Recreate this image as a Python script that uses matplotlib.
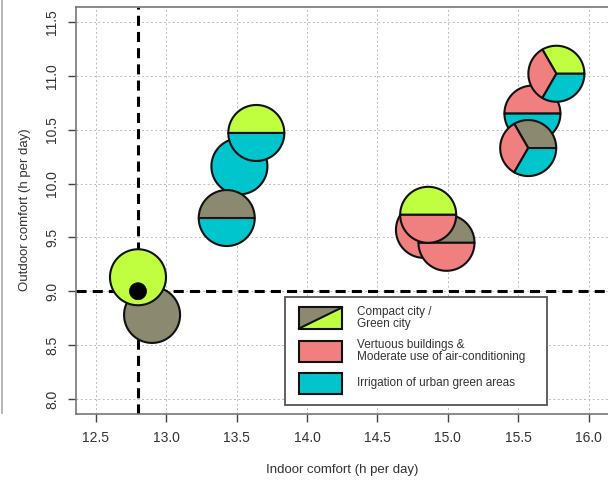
import matplotlib
matplotlib.use('Agg')
import numpy as np
import matplotlib.pyplot as plt
from matplotlib.patches import Rectangle, Polygon
from matplotlib.lines import Line2D

plt.rcParams['font.family'] = ['Liberation Sans', 'DejaVu Sans']

# colours of the three strategies
GRAY = '#8B8970'
LIME = '#BFFF3F'
PINK = '#F08080'
CYAN = '#00C5CD'

# scenario points (indoor, outdoor) and the strategies mixed in each, drawing order
indoor = [13.52, 13.43, 13.64, 12.90, 12.80, 14.83, 14.99, 14.86, 15.60, 15.57, 15.77]
outdoor = [10.16, 9.68, 10.47, 8.78, 9.13, 9.57, 9.45, 9.71, 10.65, 10.33, 11.02]
slices = [
    [CYAN],
    [GRAY, CYAN],
    [LIME, CYAN],
    [GRAY],
    [LIME],
    [PINK],
    [GRAY, PINK],
    [LIME, PINK],
    [PINK, CYAN],
    [GRAY, PINK, CYAN],
    [LIME, PINK, CYAN],
]

ref_x, ref_y = 12.8, 9.0
xticks = [12.5, 13.0, 13.5, 14.0, 14.5, 15.0, 15.5, 16.0]
yticks = [8.0, 8.5, 9.0, 9.5, 10.0, 10.5, 11.0, 11.5]

legend_labels = ['Compact city /\nGreen city',
                 'Vertuous buildings &\nModerate use of air-conditioning',
                 'Irrigation of urban green areas']

W, H = 608, 482
fig = plt.figure(figsize=(W / 100, H / 100), dpi=100)
ax_l, ax_r, ax_t, ax_b = 76, 608.5, 7, 414
ax = fig.add_axes([ax_l / W, 1 - ax_b / H, (ax_r - ax_l) / W, (ax_b - ax_t) / H])
xlim = (12.5 - 0.14, 16.0 + 0.14)
ylim = (8.0 - 0.14, 11.5 + 0.14)
ax.set_xlim(xlim)
ax.set_ylim(ylim)

ax.set_xticks(xticks)
ax.set_yticks(yticks)
ax.set_xticklabels(['%.1f' % v for v in xticks], fontsize=10, color='#333333')
ax.set_yticklabels(['%.1f' % v for v in yticks], fontsize=10, color='#333333',
                   rotation=90, va='center')
ax.tick_params(axis='x', length=6, width=1, color='#444444', pad=6)
ax.tick_params(axis='y', length=6, width=1, color='#444444', pad=6)
ax.grid(True, color='#bbbbbb', linestyle=(0, (2, 2.5)), linewidth=0.7)
ax.set_axisbelow(True)
for s in ax.spines.values():
    s.set_color('#777777')
    s.set_linewidth(1.2)
ax.spines['right'].set_visible(False)

# reference lines
ax.axvline(ref_x, color='black', lw=2.2, dashes=(3.3, 2.0), zorder=2)
ax.axhline(ref_y, color='black', lw=2.2, dashes=(3.3, 2.0), zorder=2)

# pixel -> data scale so the pies stay round on screen
sx = (xlim[1] - xlim[0]) / (ax_r - ax_l)
sy = (ylim[1] - ylim[0]) / (ax_b - ax_t)


def sector(x, y, r_px, t1, t2, full=False):
    t = np.radians(np.linspace(t1, t2, 120))
    px = x + r_px * sx * np.cos(t)
    py = y + r_px * sy * np.sin(t)
    if full:
        return np.column_stack([px, py])
    return np.vstack([[x, y], np.column_stack([px, py])])


r = 28
z = 3
for x, y, cols in zip(indoor, outdoor, slices):
    n = len(cols)
    if n == 1:
        ax.add_patch(Polygon(sector(x, y, r, 0, 360, True), closed=True,
                             facecolor=cols[0], edgecolor='#111111', lw=1.5, zorder=z))
    else:
        step = 360.0 / n
        for i, c in enumerate(cols):
            ax.add_patch(Polygon(sector(x, y, r, i * step, (i + 1) * step), closed=True,
                                 facecolor=c, edgecolor='#111111', lw=1.5,
                                 joinstyle='round', zorder=z))
    z += 1

# black reference dot
ax.add_patch(Polygon(sector(ref_x, ref_y, 8.5, 0, 360, True), closed=True,
                     facecolor='black', edgecolor='black', lw=0.5, zorder=z + 1))


# legend box and axis titles drawn in figure pixels
def fx(px):
    return px / float(W)


def fy(py):
    return 1 - py / float(H)


fig.text(fx(342), fy(470), 'Indoor comfort (h per day)', fontsize=9.5, color='#333333',
         ha='center', va='center')
fig.text(fx(25), fy(210), 'Outdoor comfort (h per day)', fontsize=9.5, color='#333333',
         ha='center', va='center', rotation=90)

fig.add_artist(Rectangle((fx(285), fy(405)), fx(547) - fx(285), fy(297) - fy(405),
                         transform=fig.transFigure, facecolor='white',
                         edgecolor='#555555', lw=1.3, zorder=10))
rows_y = [318, 351, 383]
bw, bh = 43, 21
x0 = 299
# first key: gray / lime split along the diagonal
yt, yb = rows_y[0] - bh / 2, rows_y[0] + bh / 2
fig.add_artist(Polygon([(fx(x0), fy(yt)), (fx(x0 + bw), fy(yt)), (fx(x0), fy(yb))],
                       closed=True, transform=fig.transFigure, facecolor=GRAY,
                       edgecolor='none', zorder=11))
fig.add_artist(Polygon([(fx(x0 + bw), fy(yt)), (fx(x0 + bw), fy(yb)), (fx(x0), fy(yb))],
                       closed=True, transform=fig.transFigure, facecolor=LIME,
                       edgecolor='none', zorder=11))
fig.add_artist(Line2D([fx(x0), fx(x0 + bw)], [fy(yb), fy(yt)], transform=fig.transFigure,
                      color='#111111', lw=1.5, zorder=12))
key_cols = [None, PINK, CYAN]
for i, yy in enumerate(rows_y):
    yt, yb = yy - bh / 2, yy + bh / 2
    fig.add_artist(Rectangle((fx(x0), fy(yb)), fx(bw), fy(yt) - fy(yb),
                             transform=fig.transFigure,
                             facecolor='none' if key_cols[i] is None else key_cols[i],
                             edgecolor='#111111', lw=1.5, zorder=12))
    fig.text(fx(357), fy(yy), legend_labels[i], fontsize=8.5, color='#333333',
             va='center', ha='left', linespacing=0.9, zorder=13)

# edge of the neighbouring panel
fig.add_artist(Line2D([fx(1.5), fx(1.5)], [fy(0), fy(413)], transform=fig.transFigure,
                      color='#aaaaaa', lw=1.2))

fig.savefig('out.png', dpi=100)
